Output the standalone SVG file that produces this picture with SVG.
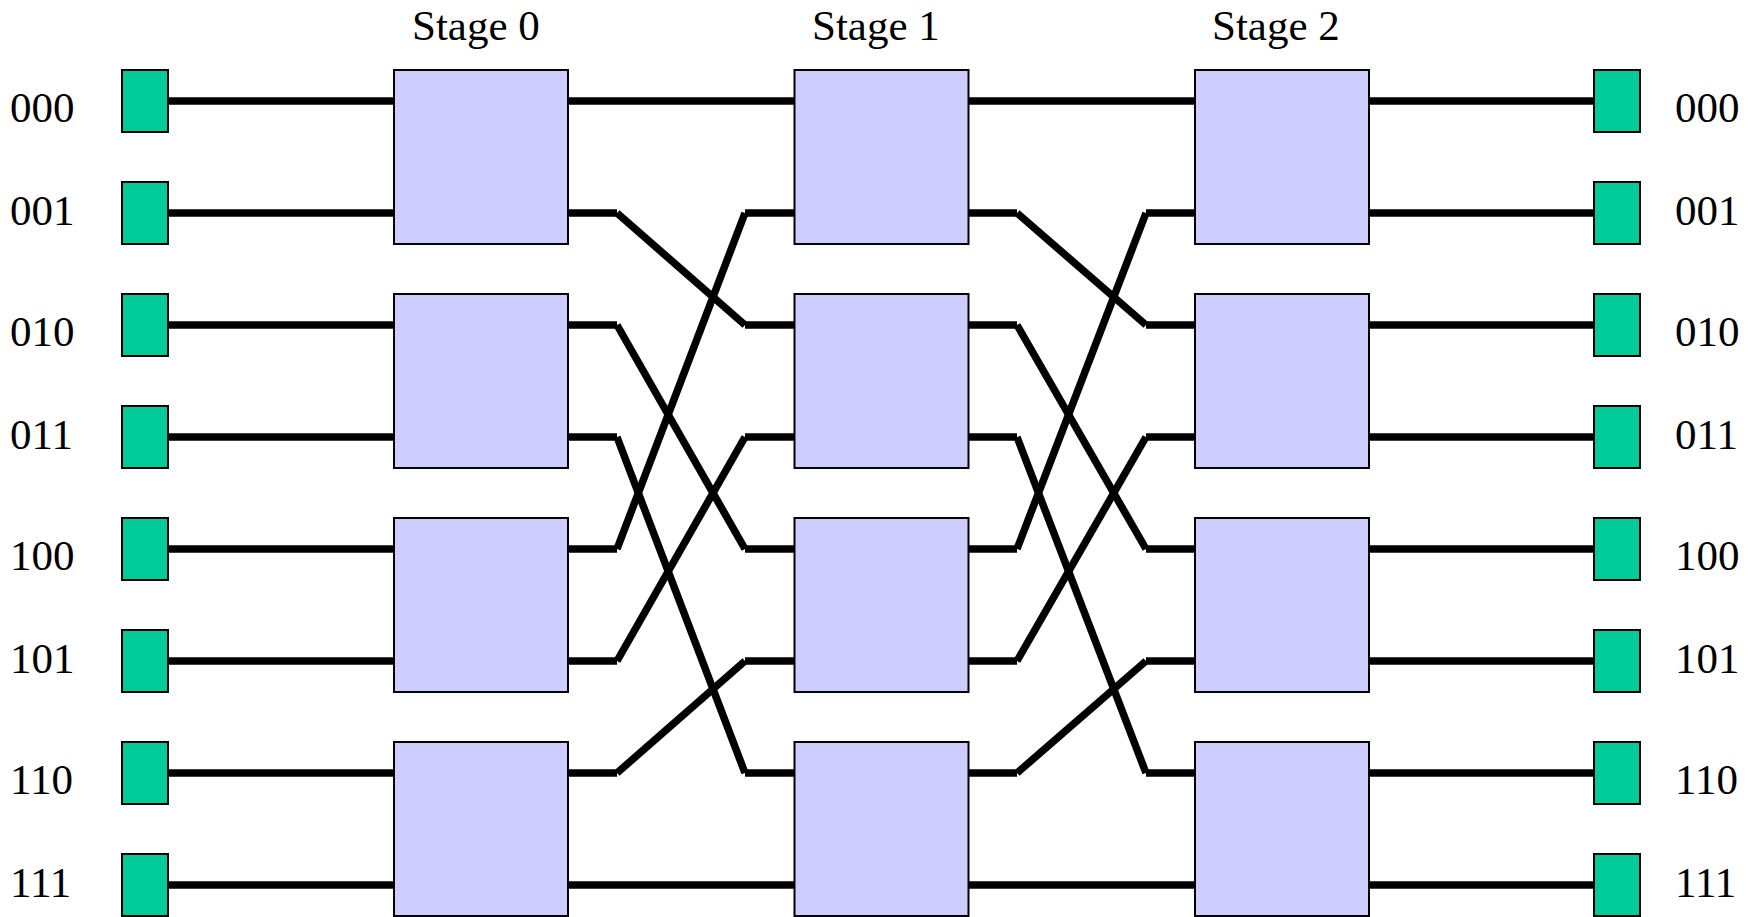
<svg xmlns="http://www.w3.org/2000/svg" width="1760" height="917" viewBox="0 0 1760 917">
<style>
.term{fill:#00CC99;stroke:#000;stroke-width:2}
.sw{fill:#CCCCFF;stroke:#000;stroke-width:2}
.lbl{font-family:"Liberation Serif","Times New Roman",serif;font-size:43px;fill:#000}
#connectors line{stroke:#000;stroke-width:7.5;stroke-linecap:butt}
</style>
<rect width="1760" height="917" fill="#fff"/>
<g id="stage-labels">
<text class="lbl" x="412" y="40">Stage 0</text>
<text class="lbl" x="812" y="40">Stage 1</text>
<text class="lbl" x="1212" y="40">Stage 2</text>
</g>
<g id="connectors">
<line x1="168" y1="101" x2="394" y2="101"/>
<line x1="168" y1="213" x2="394" y2="213"/>
<line x1="168" y1="325" x2="394" y2="325"/>
<line x1="168" y1="437" x2="394" y2="437"/>
<line x1="168" y1="549" x2="394" y2="549"/>
<line x1="168" y1="661" x2="394" y2="661"/>
<line x1="168" y1="773" x2="394" y2="773"/>
<line x1="168" y1="885" x2="394" y2="885"/>
<line x1="568" y1="101" x2="794" y2="101"/>
<line x1="568" y1="885" x2="794" y2="885"/>
<line x1="568" y1="213" x2="617" y2="213"/><line x1="617" y1="213" x2="745" y2="325"/><line x1="745" y1="325" x2="794" y2="325"/>
<line x1="568" y1="325" x2="617" y2="325"/><line x1="617" y1="325" x2="745" y2="549"/><line x1="745" y1="549" x2="794" y2="549"/>
<line x1="568" y1="437" x2="617" y2="437"/><line x1="617" y1="437" x2="745" y2="773"/><line x1="745" y1="773" x2="794" y2="773"/>
<line x1="568" y1="549" x2="617" y2="549"/><line x1="617" y1="549" x2="745" y2="213"/><line x1="745" y1="213" x2="794" y2="213"/>
<line x1="568" y1="661" x2="617" y2="661"/><line x1="617" y1="661" x2="745" y2="437"/><line x1="745" y1="437" x2="794" y2="437"/>
<line x1="568" y1="773" x2="617" y2="773"/><line x1="617" y1="773" x2="745" y2="661"/><line x1="745" y1="661" x2="794" y2="661"/>
<line x1="968" y1="101" x2="1195" y2="101"/>
<line x1="968" y1="885" x2="1195" y2="885"/>
<line x1="968" y1="213" x2="1017" y2="213"/><line x1="1017" y1="213" x2="1146" y2="325"/><line x1="1146" y1="325" x2="1195" y2="325"/>
<line x1="968" y1="325" x2="1017" y2="325"/><line x1="1017" y1="325" x2="1146" y2="549"/><line x1="1146" y1="549" x2="1195" y2="549"/>
<line x1="968" y1="437" x2="1017" y2="437"/><line x1="1017" y1="437" x2="1146" y2="773"/><line x1="1146" y1="773" x2="1195" y2="773"/>
<line x1="968" y1="549" x2="1017" y2="549"/><line x1="1017" y1="549" x2="1146" y2="213"/><line x1="1146" y1="213" x2="1195" y2="213"/>
<line x1="968" y1="661" x2="1017" y2="661"/><line x1="1017" y1="661" x2="1146" y2="437"/><line x1="1146" y1="437" x2="1195" y2="437"/>
<line x1="968" y1="773" x2="1017" y2="773"/><line x1="1017" y1="773" x2="1146" y2="661"/><line x1="1146" y1="661" x2="1195" y2="661"/>
<line x1="1369" y1="101" x2="1594" y2="101"/>
<line x1="1369" y1="213" x2="1594" y2="213"/>
<line x1="1369" y1="325" x2="1594" y2="325"/>
<line x1="1369" y1="437" x2="1594" y2="437"/>
<line x1="1369" y1="549" x2="1594" y2="549"/>
<line x1="1369" y1="661" x2="1594" y2="661"/>
<line x1="1369" y1="773" x2="1594" y2="773"/>
<line x1="1369" y1="885" x2="1594" y2="885"/>
</g>
<g id="in-000"><rect class="term" x="122" y="70" width="46" height="62"/><text class="lbl" x="10" y="121.5">000</text></g>
<g id="in-001"><rect class="term" x="122" y="182" width="46" height="62"/><text class="lbl" x="10" y="225">001</text></g>
<g id="in-010"><rect class="term" x="122" y="294" width="46" height="62"/><text class="lbl" x="10" y="345.5">010</text></g>
<g id="in-011"><rect class="term" x="122" y="406" width="46" height="62"/><text class="lbl" x="10" y="449">011</text></g>
<g id="in-100"><rect class="term" x="122" y="518" width="46" height="62"/><text class="lbl" x="10" y="569.5">100</text></g>
<g id="in-101"><rect class="term" x="122" y="630" width="46" height="62"/><text class="lbl" x="10" y="673">101</text></g>
<g id="in-110"><rect class="term" x="122" y="742" width="46" height="62"/><text class="lbl" x="10" y="793.5">110</text></g>
<g id="in-111"><rect class="term" x="122" y="854" width="46" height="62"/><text class="lbl" x="10" y="897">111</text></g>
<g id="out-000"><rect class="term" x="1594" y="70" width="46" height="62"/><text class="lbl" x="1675" y="121.5">000</text></g>
<g id="out-001"><rect class="term" x="1594" y="182" width="46" height="62"/><text class="lbl" x="1675" y="225">001</text></g>
<g id="out-010"><rect class="term" x="1594" y="294" width="46" height="62"/><text class="lbl" x="1675" y="345.5">010</text></g>
<g id="out-011"><rect class="term" x="1594" y="406" width="46" height="62"/><text class="lbl" x="1675" y="449">011</text></g>
<g id="out-100"><rect class="term" x="1594" y="518" width="46" height="62"/><text class="lbl" x="1675" y="569.5">100</text></g>
<g id="out-101"><rect class="term" x="1594" y="630" width="46" height="62"/><text class="lbl" x="1675" y="673">101</text></g>
<g id="out-110"><rect class="term" x="1594" y="742" width="46" height="62"/><text class="lbl" x="1675" y="793.5">110</text></g>
<g id="out-111"><rect class="term" x="1594" y="854" width="46" height="62"/><text class="lbl" x="1675" y="897">111</text></g>
<g id="s0-0"><rect class="sw" x="394" y="70" width="174" height="174"/></g>
<g id="s0-1"><rect class="sw" x="394" y="294" width="174" height="174"/></g>
<g id="s0-2"><rect class="sw" x="394" y="518" width="174" height="174"/></g>
<g id="s0-3"><rect class="sw" x="394" y="742" width="174" height="174"/></g>
<g id="s1-0"><rect class="sw" x="794.5" y="70" width="174" height="174"/></g>
<g id="s1-1"><rect class="sw" x="794.5" y="294" width="174" height="174"/></g>
<g id="s1-2"><rect class="sw" x="794.5" y="518" width="174" height="174"/></g>
<g id="s1-3"><rect class="sw" x="794.5" y="742" width="174" height="174"/></g>
<g id="s2-0"><rect class="sw" x="1195" y="70" width="174" height="174"/></g>
<g id="s2-1"><rect class="sw" x="1195" y="294" width="174" height="174"/></g>
<g id="s2-2"><rect class="sw" x="1195" y="518" width="174" height="174"/></g>
<g id="s2-3"><rect class="sw" x="1195" y="742" width="174" height="174"/></g>
</svg>
